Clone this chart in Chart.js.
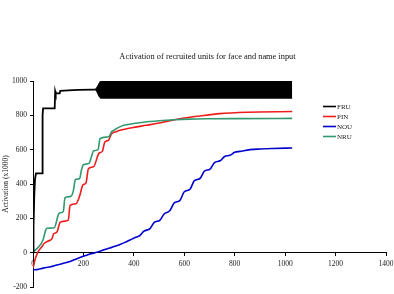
<!DOCTYPE html>
<html>
<head>
<meta charset="utf-8">
<script src="https://cdn.jsdelivr.net/npm/chart.js@4.4.0/dist/chart.umd.min.js"></script>
<style>
  html, body { margin: 0; padding: 0; background: #fff; }
  #wrap { width: 394px; height: 294px; }
</style>
</head>
<body>
<div id="wrap"><canvas id="chart" width="394" height="294"></canvas></div>
<script>
// values
const seriesNames = ["FRU", "PIN", "NOU", "NRU"];
const seriesColors = ["#000000", "#ee1c1c", "#0000cc", "#339970"];
const chartTitle = 'Activation of recruited units for face and name input';

const fruX = [0, 2, 5, 8, 12, 36, 38, 40, 86, 88, 90, 106, 108, 140, 180, 240, 246];
const fruY = [0, 150, 330, 430, 462, 462, 800, 840, 840, 940, 928, 928, 943, 945, 948, 950, 950];

// FRU oscillates very fast between these two edges after ~250
const bandX = [246, 252, 258, 264, 268, 1028];
const bandTop = [951, 960, 975, 992, 1000, 1000];
const bandBottom = [949, 942, 922, 905, 900, 900];

const pinX = [0, 8, 20, 35, 45, 60, 75, 82, 95, 107, 118, 140, 147, 170, 185, 198, 210, 220, 240, 262, 275, 285, 300, 310, 330, 360, 400, 450, 500, 530, 600, 660, 740, 850, 1028];
const pinY = [-90, -40, 5, 35, 55, 68, 80, 110, 120, 176, 182, 190, 275, 285, 330, 395, 405, 490, 500, 580, 590, 645, 655, 690, 705, 718, 730, 742, 755, 765, 784, 796, 810, 818, 822];

const nouX = [0, 15, 41, 70, 94, 120, 147, 166, 186, 206, 226, 246, 266, 285, 305, 325, 345, 365, 385, 405, 424, 440, 464, 480, 504, 520, 543, 560, 583, 600, 623, 640, 662, 680, 702, 720, 742, 760, 781, 800, 821, 861, 900, 952, 1028];
const nouY = [-100, -99, -90, -82, -72, -62, -52, -40, -28, -18, -8, 0, 8, 18, 27, 38, 48, 60, 74, 88, 100, 125, 140, 175, 190, 225, 245, 290, 305, 355, 370, 420, 432, 475, 487, 525, 535, 560, 567, 585, 590, 600, 604, 607, 610];

const nruX = [0, 20, 40, 50, 55, 85, 92, 100, 107, 120, 127, 150, 160, 168, 185, 192, 200, 222, 232, 240, 258, 266, 300, 312, 320, 340, 360, 400, 440, 500, 560, 620, 700, 800, 1028];
const nruY = [5, 30, 75, 130, 142, 145, 175, 220, 232, 240, 320, 328, 360, 425, 432, 480, 512, 520, 560, 593, 600, 665, 675, 705, 712, 730, 742, 752, 760, 768, 774, 778, 780, 781, 782];

const xTicks = [0, 200, 400, 600, 800, 1000, 1200, 1400];
const yTicks = [-200, 0, 200, 400, 600, 800, 1000];

function pts(xs, ys) {
  return xs.map(function (x, i) { return { x: x, y: ys[i] }; });
}

const serif = "'Liberation Serif', 'Times New Roman', serif";

// title and small legend drawn by hand, placed like the original
const extrasPlugin = {
  id: 'extras',
  afterDraw: function (chart) {
    const ctx = chart.ctx;
    ctx.save();
    ctx.fillStyle = '#111';
    ctx.font = "8.4px " + serif;
    ctx.textAlign = 'center';
    ctx.textBaseline = 'middle';
    ctx.fillText(chartTitle, 207.5, 57);

    ctx.font = "7px " + serif;
    ctx.textAlign = 'left';
    for (let i = 0; i < seriesNames.length; i++) {
      const y = 106.5 + i * 10;
      ctx.strokeStyle = seriesColors[i];
      ctx.lineWidth = 1.6;
      ctx.beginPath();
      ctx.moveTo(323, y);
      ctx.lineTo(336, y);
      ctx.stroke();
      ctx.fillStyle = '#222';
      ctx.fillText(seriesNames[i], 337, y + 0.5);
    }
    ctx.restore();
  }
};

function plain(v) { return String(v); }

new Chart(document.getElementById('chart'), {
  type: 'line',
  data: {
    datasets: [
      { label: 'band', data: pts(bandX, bandTop), borderColor: '#000', borderWidth: 1,
        backgroundColor: '#000', fill: '+1', pointRadius: 0, tension: 0 },
      { label: 'band2', data: pts(bandX, bandBottom), borderColor: '#000', borderWidth: 1,
        fill: false, pointRadius: 0, tension: 0 },
      { label: seriesNames[0], data: pts(fruX, fruY), borderColor: seriesColors[0], borderWidth: 1.8,
        fill: false, pointRadius: 0, tension: 0 },
      { label: seriesNames[3], data: pts(nruX, nruY), borderColor: seriesColors[3], borderWidth: 1.6,
        fill: false, pointRadius: 0, cubicInterpolationMode: 'monotone' },
      { label: seriesNames[1], data: pts(pinX, pinY), borderColor: seriesColors[1], borderWidth: 1.6,
        fill: false, pointRadius: 0, cubicInterpolationMode: 'monotone' },
      { label: seriesNames[2], data: pts(nouX, nouY), borderColor: seriesColors[2], borderWidth: 1.6,
        fill: false, pointRadius: 0, cubicInterpolationMode: 'monotone' }
    ]
  },
  options: {
    responsive: false,
    animation: false,
    layout: { padding: { left: 0, right: 8, top: 81, bottom: 7 } },
    plugins: {
      legend: { display: false },
      tooltip: { enabled: false },
      title: { display: false }
    },
    scales: {
      x: {
        type: 'linear',
        position: { y: 0 },
        min: 0, max: 1400,
        afterFit: function (s) { s.height = 0; s.paddingLeft = 0; s.paddingRight = 0; },
        afterBuildTicks: function (s) { s.ticks = xTicks.map(function (v) { return { value: v }; }); },
        grid: { drawOnChartArea: false, drawTicks: true, tickLength: 3, color: '#000' },
        border: { display: true, color: '#000', width: 1 },
        ticks: { color: '#222', padding: 4, maxRotation: 0, callback: plain, font: { family: serif, size: 7.5 } }
      },
      y: {
        type: 'linear',
        min: -200, max: 1000,
        afterFit: function (s) { s.width = 33; s.paddingTop = 0; s.paddingBottom = 0; },
        afterBuildTicks: function (s) { s.ticks = yTicks.map(function (v) { return { value: v }; }); },
        grid: { drawOnChartArea: false, drawTicks: true, tickLength: 3, color: '#000' },
        border: { display: true, color: '#000', width: 1 },
        ticks: { color: '#222', padding: 3, callback: plain, font: { family: serif, size: 7.5 } },
        title: { display: true, text: 'Activation (x1000)', color: '#222', padding: { top: 2, bottom: 0 },
                 font: { family: serif, size: 7.5 } }
      }
    }
  },
  plugins: [extrasPlugin]
});
</script>
</body>
</html>
